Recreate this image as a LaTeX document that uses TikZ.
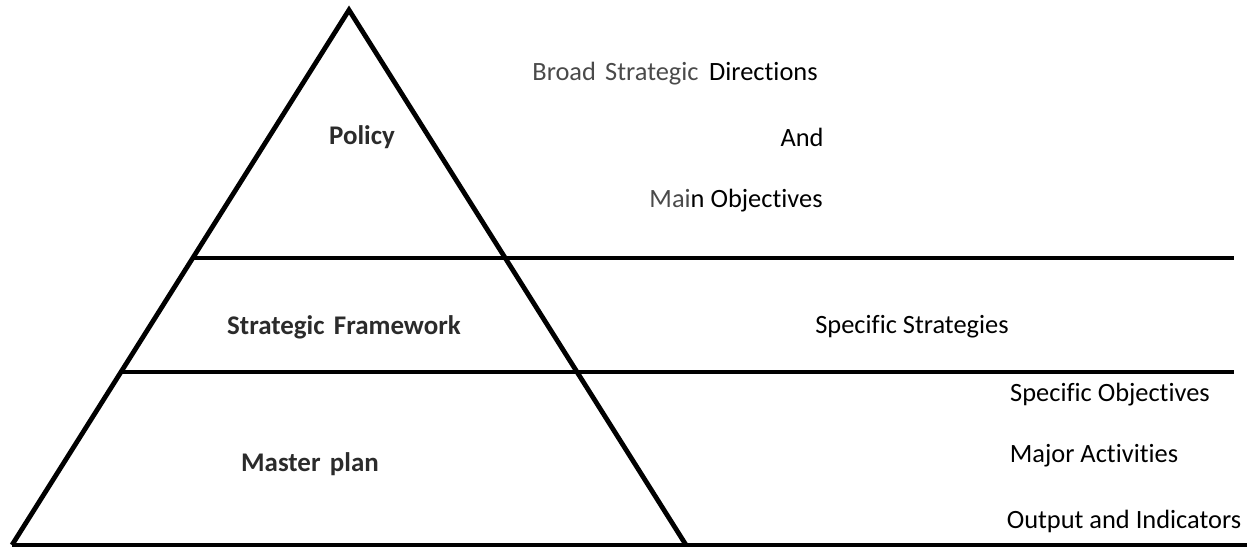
\documentclass[tikz,border=0pt]{standalone}
\usepackage{fontspec}
\setmainfont[Ligatures=NoCommon]{Carlito}
\definecolor{boldgray}{HTML}{2B2B2B}
\definecolor{softgray}{HTML}{4A4A4A}
\begin{document}
\begin{tikzpicture}[x=0.75pt,y=-0.75pt,
  edge/.style={line width=3.6pt,line cap=butt,line join=miter},
  lvl/.style={font=\fontsize{20.2pt}{22pt}\selectfont\bfseries,text=boldgray,inner sep=0pt},
  desc/.style={font=\fontsize{19.8pt}{22pt}\selectfont,text=black,inner sep=0pt}]
\useasboundingbox (0,0) rectangle (1251,548);
\coordinate (apex) at (349,10);
\coordinate (bl) at (12,545);
\coordinate (br) at (686,545);
\coordinate (bend) at (1247,545);
\coordinate (l1a) at (192.5,258);
\coordinate (l1b) at (1234,258);
\coordinate (l2a) at (121,372);
\coordinate (l2b) at (1234,372);
\draw[edge] (bl) -- (apex) -- (br);
\draw[edge] (l1a) -- (l1b);
\draw[edge] (l2a) -- (l2b);
\draw[edge] (bl) -- (bend);
\node[lvl] (policy) at (362,137) {Policy};
\node[lvl] (sf) at (344,327) {Strategic\hspace{0.35em}Framework};
\node[lvl] (mp) at (310,464) {Master\hspace{0.35em}plan};
\node[desc] (d1) at (675,74) {\textcolor{softgray}{Broad\hspace{0.35em}Strategic}\hspace{0.4em}Directions};
\node[desc] (d2) at (802,137) {And};
\node[desc] (d3) at (736,201) {\textcolor{softgray}{Mai}n Objectives};
\node[desc] (d4) at (912,327) {Specific Strategies};
\node[desc] (d5) at (1110,395) {Specific Objectives};
\node[desc] (d6) at (1094,456) {Major Activities};
\node[desc] (d7) at (1124,521) {Output and Indicators};
\end{tikzpicture}
\end{document}
